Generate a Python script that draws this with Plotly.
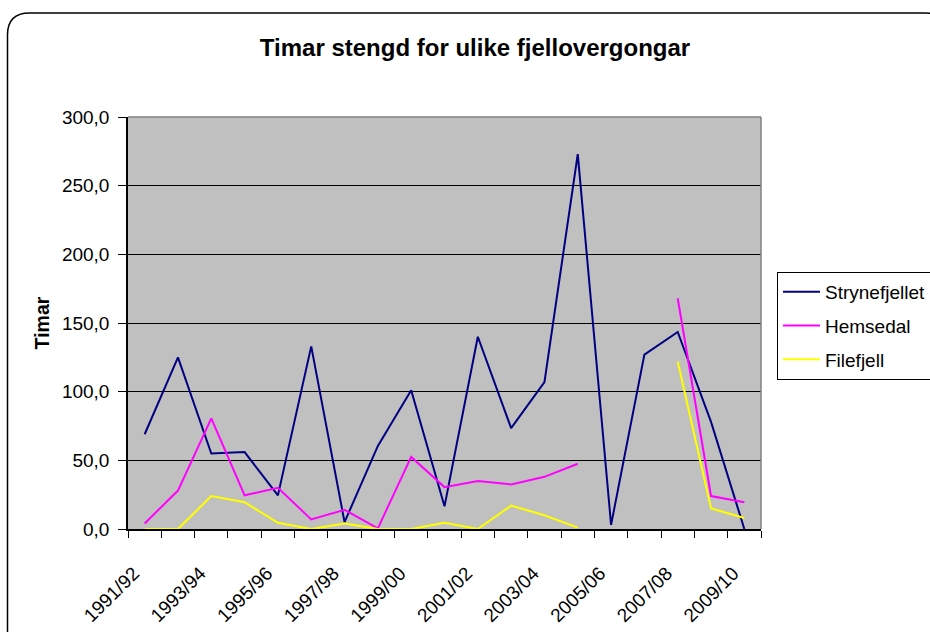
import plotly.graph_objects as go

# Categories (seasons) and hours closed per mountain pass
seasons = [
    "1991/92", "1992/93", "1993/94", "1994/95", "1995/96", "1996/97", "1997/98",
    "1998/99", "1999/00", "2000/01", "2001/02", "2002/03", "2003/04", "2004/05",
    "2005/06", "2006/07", "2007/08", "2008/09", "2009/10",
]
strynefjellet = [69, 125, 55, 56, 24.5, 133, 5, 60.5, 101, 16.5, 140, 73.5, 107, 273,
                 3, 127, 143.5, 78, 0]
hemsedal = [4, 28, 80.5, 24.5, 30, 7, 14, 0.5, 52.5, 30.5, 35, 32.5, 38, 47.5,
            None, None, 168, 24, 19.5]
filefjell = [0, 0, 24, 19.5, 4.5, 0, 4, 0, 0, 4.5, 0, 17, 10, 1,
             None, None, 122, 15, 8]

label_idx = list(range(0, len(seasons), 2))
label_text = [seasons[i] for i in label_idx]

FONT = "Arial, Liberation Sans, sans-serif"
W, H = 930, 632
L, R, T, B = 128, 169, 117, 103
PW, PH = W - L - R, H - T - B


def px(x):
    return (x - L) / PW


def py(y):
    return (H - B - y) / PH


x = list(range(len(seasons)))

fig = go.Figure()
fig.add_trace(go.Scatter(x=x, y=strynefjellet, mode="lines", name="Strynefjellet",
                         legendgroup="s", line=dict(color="#000080", width=2)))
fig.add_trace(go.Scatter(x=x, y=hemsedal, mode="lines", name="Hemsedal",
                         legendgroup="h", line=dict(color="#FF00FF", width=2)))
fig.add_trace(go.Scatter(x=x, y=filefjell, mode="lines", name="Filefjell",
                         legendgroup="f", line=dict(color="#FFFF00", width=2)))

# outer chart frame with rounded corners (runs off the right/bottom edge)
x0, y0, x1, y1, r = 7.5, 13, 947, 660, 22
frame = (f"M {px(x0)},{py(y1)} L {px(x0)},{py(y0 + r)} "
         f"Q {px(x0)},{py(y0)} {px(x0 + r)},{py(y0)} "
         f"L {px(x1 - r)},{py(y0)} Q {px(x1)},{py(y0)} {px(x1)},{py(y0 + r)} "
         f"L {px(x1)},{py(y1)}")

fig.update_layout(
    width=W, height=H,
    margin=dict(l=L, r=R, t=T, b=B, autoexpand=False),
    paper_bgcolor="white",
    plot_bgcolor="#C0C0C0",
    separators=", ",
    font=dict(family=FONT, size=19, color="black"),
    title=dict(text="<b>Timar stengd for ulike fjellovergongar</b>",
               x=475 / W, xref="container", xanchor="center",
               y=1 - 48 / H, yanchor="middle",
               font=dict(family=FONT, size=24, color="black")),
    showlegend=True,
    legend=dict(x=px(777), y=py(272), xanchor="left", yanchor="top",
                bordercolor="black", borderwidth=1, bgcolor="white",
                font=dict(family=FONT, size=19), tracegroupgap=6,
                itemwidth=37),
    shapes=[
        dict(type="path", path=frame, xref="paper", yref="paper",
             line=dict(color="black", width=1.5)),
        dict(type="line", xref="paper", yref="paper", x0=0, x1=1, y0=1, y1=1,
             line=dict(color="#808080", width=1.5)),
        dict(type="line", xref="paper", yref="paper", x0=1, x1=1, y0=0, y1=1,
             line=dict(color="#808080", width=1.5)),
    ],
)

# major ticks are invisible spacers that push the slanted labels down;
# the visible ticks are the minor ones at category boundaries
fig.update_xaxes(
    range=[-0.5, len(seasons) - 0.5],
    tickmode="array", tickvals=label_idx, ticktext=label_text,
    tickangle=-45, ticks="outside", ticklen=24, tickcolor="rgba(0,0,0,0)",
    showgrid=False, zeroline=False,
    showline=True, linecolor="black", linewidth=1.5,
    minor=dict(ticks="outside", tick0=-0.5, dtick=1, ticklen=7,
               tickcolor="black", tickwidth=1, showgrid=False),
    ticklabelshift=-11,
    tickfont=dict(family=FONT, size=19),
)

fig.update_yaxes(
    range=[0, 300], dtick=50, tickformat=".1f",
    ticks="outside", ticklen=8, tickcolor="black", tickwidth=1,
    showgrid=True, gridcolor="black", gridwidth=1, zeroline=False,
    showline=True, linecolor="black", linewidth=1.5,
    ticklabelstandoff=5,
    tickfont=dict(family=FONT, size=19),
    title=dict(text="<b>Timar</b>", standoff=7,
               font=dict(family=FONT, size=19.5)),
)

fig.write_html(
    "out.html",
    config={"displayModeBar": False},
    post_script="document.body.style.margin='0';document.body.style.overflow='hidden';",
)
